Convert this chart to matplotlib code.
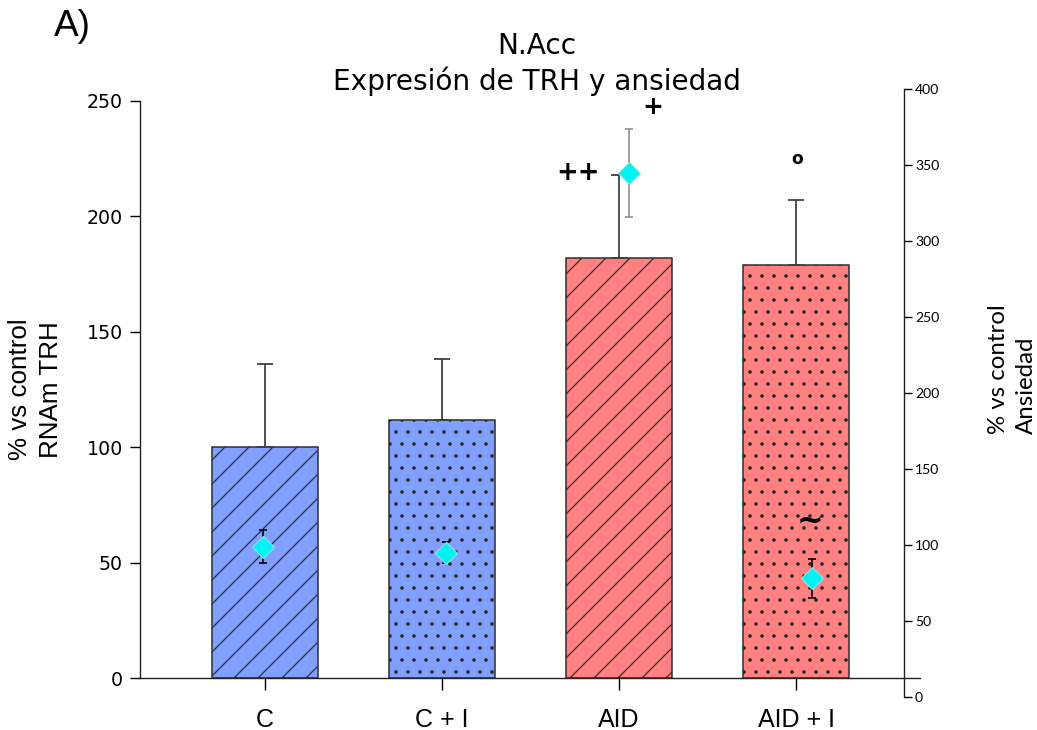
import matplotlib.pyplot as plt

grupos = ["C", "C + I", "AID", "AID + I"]
trh = [100, 112, 182, 179]
trh_err = [36, 26, 36, 28]
ansiedad = [99, 95, 345, 78]
ansiedad_err = [11, 7, 29, 13]
colores = ["#809fff", "#809fff", "#ff8080", "#ff8080"]
tramas = ["//", "..", "//", ".."]
color_err_ans = ["black", "black", "#8c8c8c", "black"]

# significance marks, placed on the anxiety scale
marcas = ["+", "++", "o", "~"]
marcas_x = [2.13, 1.72, 2.92, 2.99]
marcas_y = [388, 345, 354, 116]
marcas_size = [12.5, 13, 8.5, 16]

plt.rcParams['hatch.linewidth'] = 0.6
plt.rcParams['font.family'] = 'DejaVu Sans'

W, H = 1037, 730
fig = plt.figure(figsize=(W / 144, H / 144), dpi=144)

# left axis: TRH mRNA
ax = fig.add_axes([140 / W, 52 / H, 780 / W, 577 / H])
x = list(range(len(grupos)))
barras = ax.bar(x, trh, 0.6, color=colores, edgecolor='#2a2a2a', linewidth=0.75,
                yerr=[[0] * len(trh), trh_err],
                error_kw=dict(ecolor='#404040', elinewidth=0.9, capsize=4.2, capthick=0.9))
for b, h in zip(barras, tramas):
    b.set_hatch(h)

ax.set_xlim(-0.706, 3.70)
ax.set_ylim(0, 250)
ax.set_yticks(range(0, 251, 50))
ax.set_xticks(x)
ax.set_xticklabels(grupos, fontfamily='Liberation Sans', fontsize=12.5)
for s in ['top', 'right']:
    ax.spines[s].set_visible(False)
for s in ['left', 'bottom']:
    ax.spines[s].set_linewidth(0.7)
    ax.spines[s].set_color('#222222')
ax.tick_params(axis='y', direction='out', length=5, width=0.7, pad=3.5, labelsize=9.5)
ax.tick_params(axis='x', direction='out', length=6, width=0.7, pad=9)
ax.set_ylabel("% vs control\nRNAm TRH", fontfamily='Liberation Sans', fontsize=13,
              linespacing=1.4, va='center', ha='center')
ax.yaxis.set_label_coords(-0.1340, 0.5)

# right axis: anxiety
ax2 = fig.add_axes([140 / W, 33 / H, 780 / W, 608 / H])
ax2.patch.set_visible(False)
for s in ['left', 'top', 'bottom']:
    ax2.spines[s].set_visible(False)
ax2.spines['right'].set_position(('axes', 764 / 780))
ax2.spines['right'].set_linewidth(0.7)
ax2.spines['right'].set_color('#222222')
ax2.set_xlim(-0.672, 3.590)
ax2.set_ylim(0, 400)
ax2.set_xticks([])
ax2.yaxis.tick_right()
ax2.set_yticks(range(0, 401, 50))
ax2.tick_params(axis='y', direction='out', length=4, width=0.7, pad=1.5, labelsize=7)
for t in ax2.get_yticklabels():
    t.set_fontfamily('Lato')
ax2.yaxis.set_label_position('right')
ax2.set_ylabel("% vs control\nAnsiedad", fontfamily='Lato', fontsize=12,
               linespacing=1.4, multialignment='left', rotation=90,
               va='center', ha='center')
ax2.yaxis.set_label_coords(1.118, 0.54)

for i in range(len(grupos)):
    ax2.errorbar(i, ansiedad[i], yerr=ansiedad_err[i], fmt='none',
                 ecolor=color_err_ans[i], elinewidth=0.8, capsize=2.2, capthick=0.8)
ax2.plot(x, ansiedad, 'D', ms=7.5, color='#00f2f2', mec='#7fe6e6', mew=0.6, zorder=3)

for m, mx, my, ms in zip(marcas, marcas_x, marcas_y, marcas_size):
    ax2.text(mx, my, m, ha='center', va='center', fontsize=ms, fontweight='bold')

fig.text(537 / W, 1 - 64 / H, "N.Acc\nExpresión de TRH y ansiedad", ha='center',
         va='center', fontsize=14, linespacing=1.25)
fig.text(72 / W, 1 - 26 / H, "A)", ha='center', va='center', fontsize=18.5,
         fontfamily='Liberation Sans')

fig.savefig('out.png', dpi=144)
